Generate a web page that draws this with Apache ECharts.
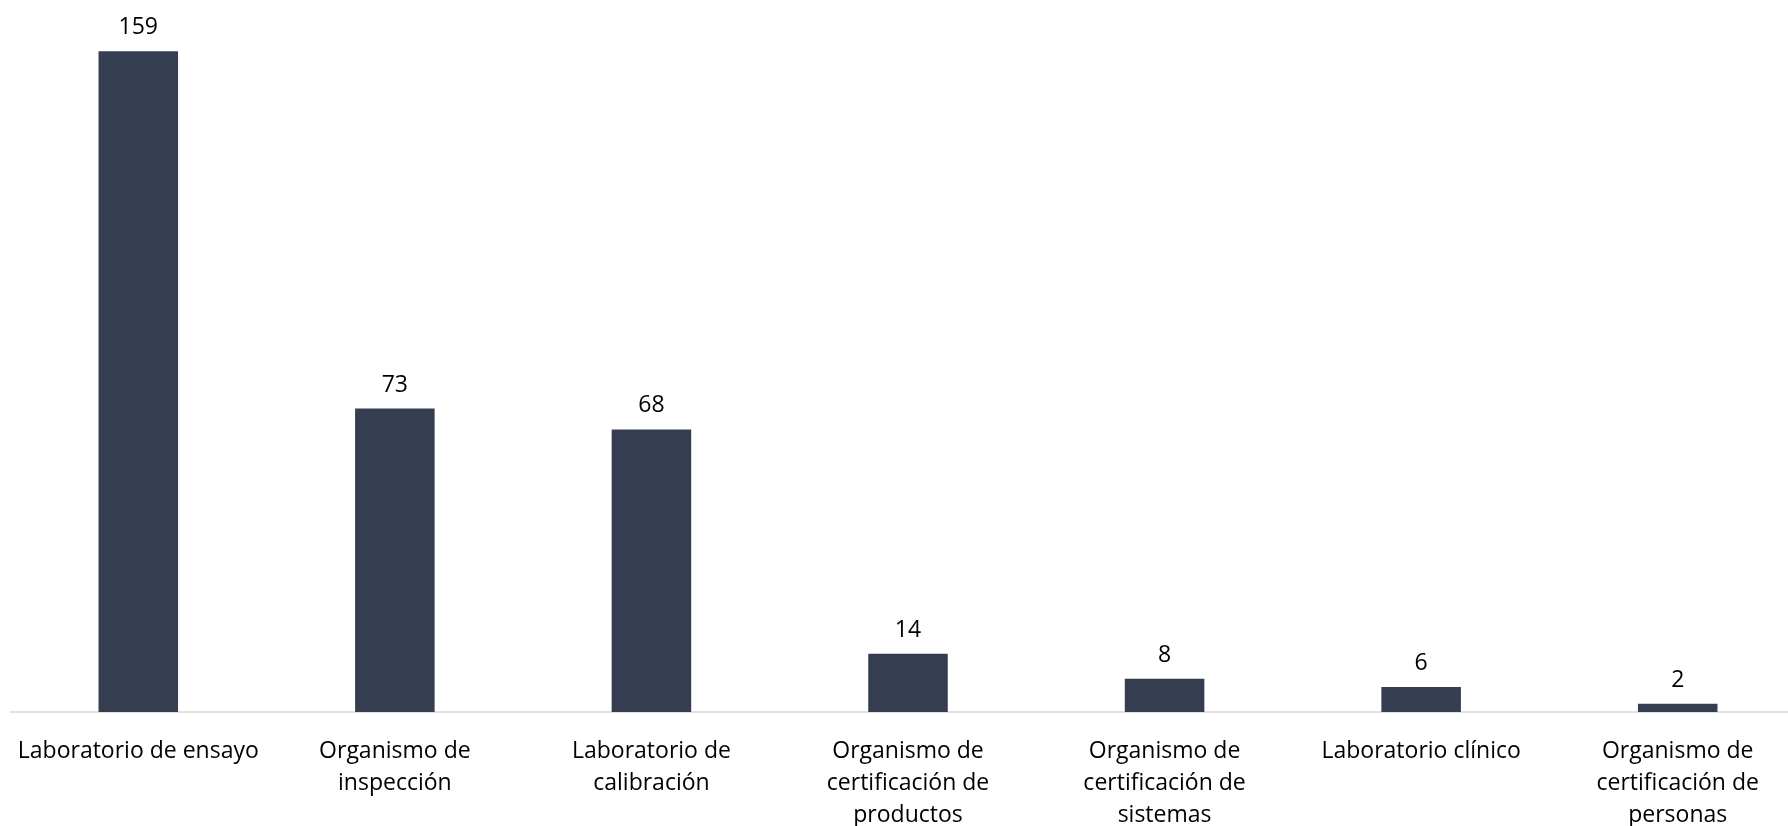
<!DOCTYPE html>
<html>
<head>
<meta charset="utf-8">
<script src="https://cdn.jsdelivr.net/npm/echarts@6/dist/echarts.min.js"></script>
<style>
  html, body { margin: 0; padding: 0; background: #fff; }
  #chart { width: 1788px; height: 826px; }
</style>
</head>
<body>
<div id="chart"></div>
<script>
const categories = [
  'Laboratorio de ensayo',
  'Organismo de\ninspección',
  'Laboratorio de\ncalibración',
  'Organismo de\ncertificación de\nproductos',
  'Organismo de\ncertificación de\nsistemas',
  'Laboratorio clínico',
  'Organismo de\ncertificación de\npersonas'
]
const values = [159, 73, 68, 14, 8, 6, 2]

const myChart = echarts.init(document.getElementById('chart'))
myChart.setOption({
  animation: false,
  grid: {
    left: 10,
    width: 1796,
    top: 47,
    bottom: 114,
    containLabel: false,
    outerBoundsMode: 'none'
  },
  xAxis: {
    type: 'category',
    data: categories,
    axisTick: { show: false },
    axisLine: { lineStyle: { color: '#d9d9d9', width: 1.5 } },
    axisLabel: {
      interval: 0,
      margin: 23,
      color: '#000',
      fontFamily: 'Open Sans',
      fontSize: 23,
      lineHeight: 32
    }
  },
  yAxis: {
    type: 'value',
    min: 0,
    max: 160,
    show: false,
    splitLine: { show: false }
  },
  series: [
    {
      type: 'bar',
      data: values,
      barWidth: '31%',
      itemStyle: { color: '#343e50' },
      label: {
        show: true,
        position: 'top',
        distance: 12,
        color: '#000',
        fontFamily: 'Open Sans',
        fontSize: 23
      }
    }
  ]
})
</script>
</body>
</html>
